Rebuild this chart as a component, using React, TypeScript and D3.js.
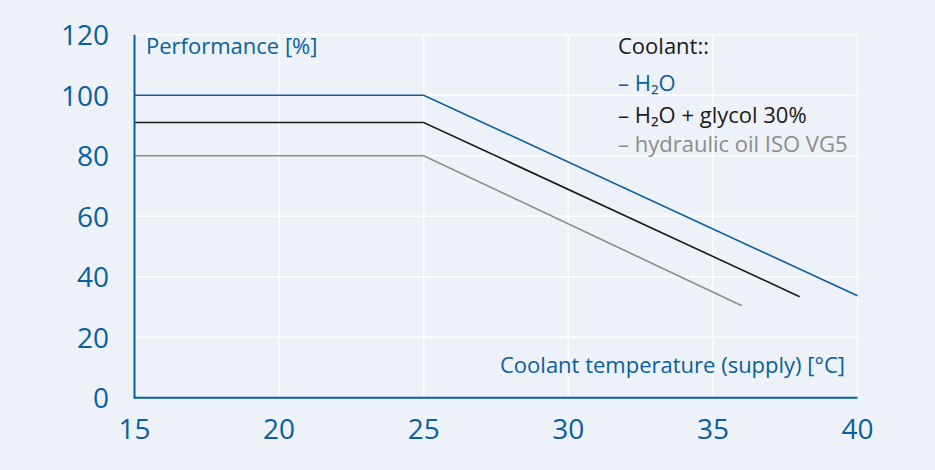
import React from "react";
import * as d3 from "d3";

const xTicks = [15, 20, 25, 30, 35, 40];
const yTicks = [0, 20, 40, 60, 80, 100, 120];

const h2oTemp = [15, 25, 40];
const h2oPerf = [100, 100, 33.7];
const glycolTemp = [15, 25, 38];
const glycolPerf = [91, 91, 33.4];
const oilTemp = [15, 25, 36];
const oilPerf = [80, 80, 30.4];

const seriesNames = ["H₂O", "H₂O + glycol 30%", "hydraulic oil ISO VG5"];
const seriesColors = ["#0a5fa0", "#1a1a1a", "#8c8c8c"];

const W = 935, H = 470;
const BLUE = "#0a5fa0";
const FONT = "'Open Sans', 'Noto Sans', sans-serif";

export default function App() {
  const x = d3.scaleLinear().domain([15, 40]).range([134.5, 857.5]);
  const y = d3.scaleLinear().domain([0, 120]).range([397.7, 34.7]);
  const line = d3.line<[number, number]>().x(d => x(d[0])).y(d => y(d[1]));
  const series = [
    { t: h2oTemp, p: h2oPerf },
    { t: glycolTemp, p: glycolPerf },
    { t: oilTemp, p: oilPerf },
  ];
  return (
    <svg width={W} height={H} style={{ position: "absolute", left: 0, top: 0 }}>
      <rect width={W} height={H} fill="#edf1f8" />
      {yTicks.filter(v => v > 0).map(v => (
        <line key={"hy" + v} x1={x(15)} x2={x(40)} y1={y(v)} y2={y(v)} stroke="#ffffff" strokeWidth={1.5} />
      ))}
      {xTicks.filter(v => v > 15).map(v => (
        <line key={"vx" + v} x1={x(v)} x2={x(v)} y1={y(0)} y2={y(120)} stroke="#ffffff" strokeWidth={1.5} />
      ))}
      {series.map((s, i) => (
        <path key={i} d={line(s.t.map((t, j) => [t, s.p[j]] as [number, number])) || ""} fill="none" stroke={seriesColors[i]} strokeWidth={1.6} />
      ))}
      <line x1={x(15)} x2={x(15)} y1={y(120)} y2={y(0) + 1} stroke={BLUE} strokeWidth={2} />
      <line x1={x(15)} x2={x(40)} y1={y(0)} y2={y(0)} stroke={BLUE} strokeWidth={2} />
      {yTicks.map(v => (
        <text key={"yl" + v} x={109} y={y(v) + 10.5} textAnchor="end" fontFamily={FONT} fontSize={28} fill={BLUE}>{v}</text>
      ))}
      {xTicks.map(v => (
        <text key={"xl" + v} x={x(v)} y={439} textAnchor="middle" fontFamily={FONT} fontSize={28} fill={BLUE}>{v}</text>
      ))}
      <text x={146} y={54} fontFamily={FONT} fontSize={22} fill={BLUE}>Performance [%]</text>
      <text x={845} y={373} textAnchor="end" fontFamily={FONT} fontSize={22} fill={BLUE}>Coolant temperature (supply) [°C]</text>
      <text x={618} y={54} fontFamily={FONT} fontSize={22} fill="#1a1a1a">Coolant::</text>
      {seriesNames.map((n, i) => (
        <text key={"lg" + i} x={618} y={[91, 123, 152][i]} fontFamily={FONT} fontSize={22} fill={seriesColors[i]}>– {n}</text>
      ))}
    </svg>
  );
}
